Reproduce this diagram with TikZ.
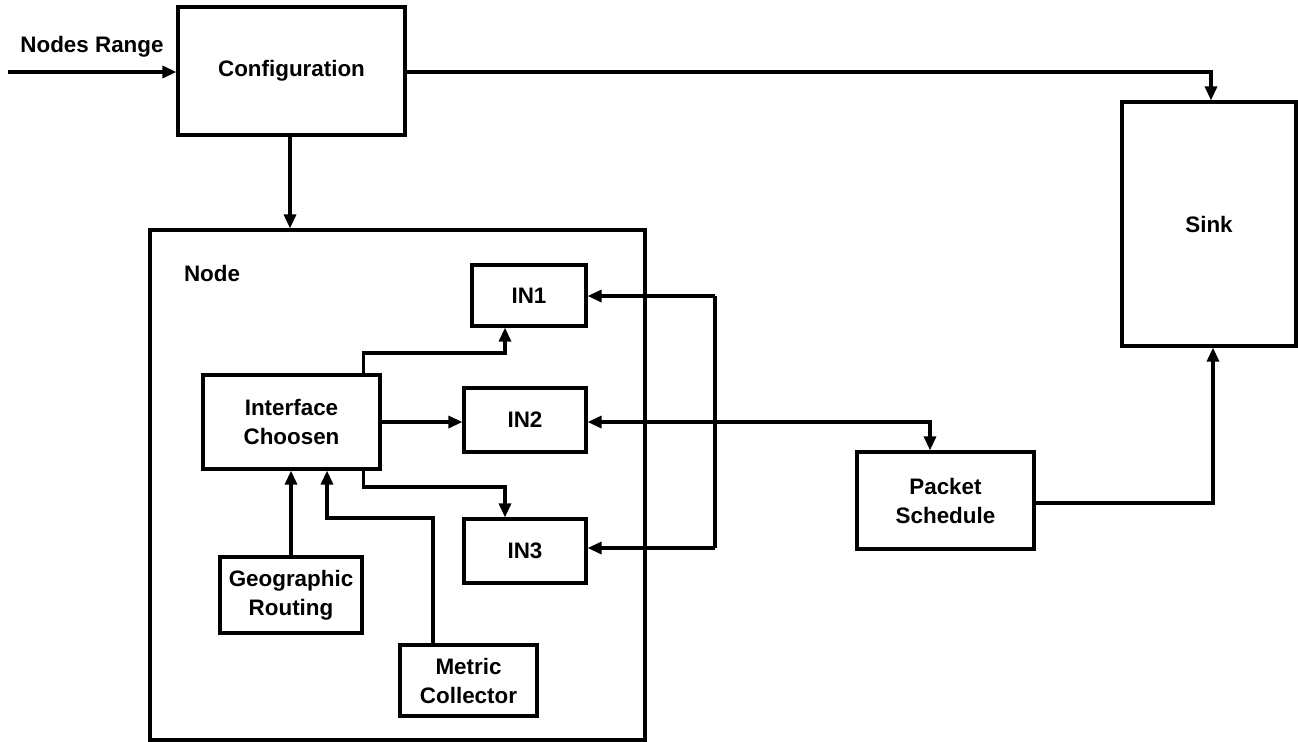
\documentclass[tikz,border=0pt]{standalone}
\usepackage{fontspec}
\setmainfont{Liberation Sans}
\usetikzlibrary{arrows.meta,calc}
\begin{document}
\begin{tikzpicture}[x=0.5pt,y=-0.5pt,
  every node/.style={font=\fontsize{11.2}{14.5}\selectfont\bfseries},
  box/.style={draw,line width=1.6pt,align=center,inner sep=0pt},
  conn/.style={line width=1.6pt},
  arr/.style={conn,-{Triangle[length=7pt,width=6pt]}},
  darr/.style={conn,{Triangle[length=7pt,width=6pt]}-{Triangle[length=7pt,width=6pt]}}]
\useasboundingbox (0,0) rectangle (1298,741);
% boxes
\node[box,minimum width=113.5pt,minimum height=64pt] (config) at (291.5,71) {Configuration};
\node[box,minimum width=87pt,minimum height=122pt] (sink) at (1209,224) {Sink};
\node[box,minimum width=247.5pt,minimum height=255pt] (nodebox) at (397.5,485) {};
\node (nodelbl) at (212,273) {Node};
\node[box,minimum width=57pt,minimum height=30.5pt] (in1) at (529,295.5) {IN1};
\node[box,minimum width=61pt,minimum height=32pt] (in2) at (525,420) {IN2};
\node[box,minimum width=61pt,minimum height=32pt] (in3) at (525,551) {IN3};
\node[box,minimum width=88.5pt,minimum height=47pt] (iface) at (291.5,422) {Interface\\Choosen};
\node[box,minimum width=71pt,minimum height=38pt] (geo) at (291,595) {Geographic\\Routing};
\node[box,minimum width=68.5pt,minimum height=35.5pt] (metric) at (468.5,680.5) {Metric\\Collector};
\node[box,minimum width=88.5pt,minimum height=48.5pt] (packet) at (945.5,500.5) {Packet\\Schedule};
% input
\coordinate (inp) at (8,72);
\node (rangelbl) at (92,47) {Nodes Range};
\draw[arr] (inp) -- (inp -| config.west);
% config connections
\draw[arr] (config.east |- inp) -| (1211,0 |- sink.north);
\draw[arr] (290,0 |- config.south) -- (290,0 |- nodebox.north);
% interface to INs
\draw[arr] ([shift={(-18,0)}]iface.north east) |- (505,353) -- (505,0 |- in1.south);
\draw[arr] (iface.east) -- (iface.east -| in2.west);
\draw[arr] ([shift={(-18,0)}]iface.south east) |- (505,487) -- (505,0 |- in3.north);
% inputs to interface
\draw[arr] (geo.north) -- (geo.north |- iface.south);
\draw[arr] (433,0 |- metric.north) |- (327,518) -- (327,0 |- iface.south);
% bracket IN1/IN3
\coordinate (br1) at (715,296);
\coordinate (br3) at (715,548);
\draw[conn] (br1) -- (br3);
\draw[arr] (br1) -- (br1 -| in1.east);
\draw[arr] (br3) -- (br3 -| in3.east);
% IN2 - packet
\draw[darr] (in2.east |- 0,422) -| (930,0 |- packet.north);
% packet to sink
\draw[arr] (packet.east |- 0,503) -| (1213,0 |- sink.south);
\end{tikzpicture}
\end{document}
